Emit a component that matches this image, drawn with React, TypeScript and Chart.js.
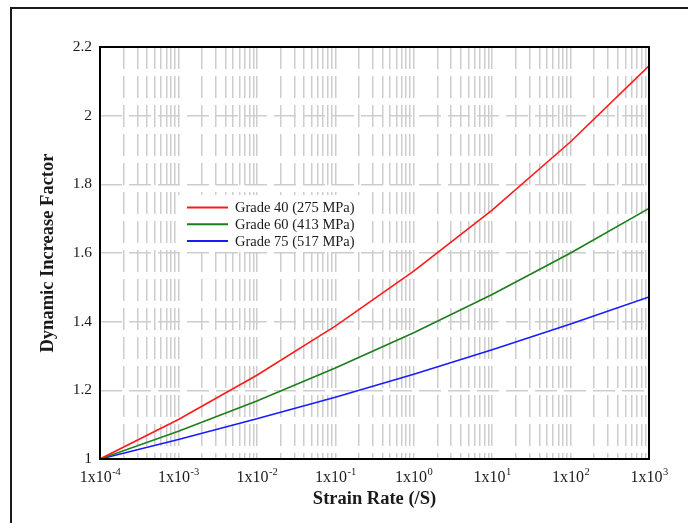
import React, { useEffect, useRef } from "react";
import { Chart, registerables } from "chart.js";

Chart.register(...registerables);

// ---- data ----
const strainRates = [1e-4, 1e-3, 1e-2, 1e-1, 1e0, 1e1, 1e2, 1e3];
const grade40 = [1.0, 1.115, 1.244, 1.387, 1.547, 1.725, 1.924, 2.145];
const grade60 = [1.0, 1.081, 1.169, 1.265, 1.368, 1.479, 1.6, 1.73];
const grade75 = [1.0, 1.057, 1.117, 1.18, 1.247, 1.318, 1.393, 1.472];
const seriesNames = ["Grade 40 (275 MPa)", "Grade 60 (413 MPa)", "Grade 75 (517 MPa)"];
const seriesColors = ["#ff1a1a", "#1a7f1a", "#1a1aff"];
const xExponents = [-4, -3, -2, -1, 0, 1, 2, 3];
const xMinorMultipliers = [1, 2, 3, 4, 5, 6, 7, 8, 9];
const yTicks = [1, 1.2, 1.4, 1.6, 1.8, 2, 2.2];
const yTickLabels = ["1", "1.2", "1.4", "1.6", "1.8", "2", "2.2"];
const xTitle = "Strain Rate (/S)";
const yTitle = "Dynamic Increase Factor";

const FONT = "'Liberation Serif', 'Times New Roman', serif";

const decorPlugin = {
  id: "decor",
  beforeDraw(chart: any) {
    const { ctx, width, height } = chart;
    ctx.save();
    ctx.fillStyle = "#ffffff";
    ctx.fillRect(0, 0, width, height);
    ctx.restore();
  },
  afterDatasetsDraw(chart: any) {
    const { ctx, chartArea } = chart;
    // legend box
    const lx = chartArea.left + 76;
    const ly = chartArea.top + 148;
    ctx.save();
    ctx.fillStyle = "#ffffff";
    ctx.fillRect(lx, ly, 188, 57);
    ctx.font = `14.5px ${FONT}`;
    ctx.textBaseline = "middle";
    ctx.fillStyle = "#1a1a1a";
    seriesNames.forEach((name, i) => {
      const y = ly + 12.5 + i * 16.8;
      ctx.strokeStyle = seriesColors[i];
      ctx.lineWidth = 2;
      ctx.beginPath();
      ctx.moveTo(lx + 11, y);
      ctx.lineTo(lx + 52, y);
      ctx.stroke();
      ctx.fillText(name, lx + 59, y + 1);
    });
    ctx.restore();
  },
  afterDraw(chart: any) {
    const { ctx, chartArea } = chart;
    const xs = chart.scales.x;
    ctx.save();
    // plot border
    ctx.strokeStyle = "#000000";
    ctx.lineWidth = 2;
    ctx.strokeRect(chartArea.left, chartArea.top, chartArea.right - chartArea.left, chartArea.bottom - chartArea.top);
    // outer frame
    ctx.strokeStyle = "#1a1a1a";
    ctx.lineWidth = 2;
    ctx.strokeRect(11, 8, 800, 700);
    // x tick labels with superscripts
    ctx.fillStyle = "#1a1a1a";
    ctx.textBaseline = "alphabetic";
    ctx.textAlign = "left";
    xExponents.forEach((e) => {
      const px = xs.getPixelForValue(Math.pow(10, e));
      ctx.font = `16px ${FONT}`;
      const base = "1x10";
      const wb = ctx.measureText(base).width;
      ctx.font = `10.5px ${FONT}`;
      const sup = e < 0 ? "-" + Math.abs(e) : String(e);
      const ws = ctx.measureText(sup).width;
      const start = px - (wb + ws) / 2;
      const by = chartArea.bottom + 23;
      ctx.font = `16px ${FONT}`;
      ctx.fillText(base, start, by);
      ctx.font = `10.5px ${FONT}`;
      ctx.fillText(sup, start + wb + 0.5, by - 7.5);
    });
    // axis titles
    ctx.font = `bold 18.5px ${FONT}`;
    ctx.textAlign = "center";
    ctx.textBaseline = "middle";
    ctx.fillText(xTitle, (chartArea.left + chartArea.right) / 2, chartArea.bottom + 40);
    ctx.translate(48, (chartArea.top + chartArea.bottom) / 2);
    ctx.rotate(-Math.PI / 2);
    ctx.fillText(yTitle, 0, 0);
    ctx.restore();
  },
};

export default function App() {
  const ref = useRef<HTMLCanvasElement | null>(null);
  useEffect(() => {
    if (!ref.current) return;
    const gridValues: number[] = [];
    xExponents.forEach((e) => {
      xMinorMultipliers.forEach((m) => {
        const v = m * Math.pow(10, e);
        if (v <= 1e3 + 1e-9) gridValues.push(v);
      });
    });
    const series = [grade40, grade60, grade75];
    const chart = new Chart(ref.current, {
      type: "line",
      data: {
        datasets: series.map((s, i) => ({
          label: seriesNames[i],
          data: s.map((y, j) => ({ x: strainRates[j], y })),
          borderColor: seriesColors[i],
          borderWidth: 1.6,
          pointRadius: 0,
          tension: 0,
          fill: false,
        })),
      },
      options: {
        animation: false,
        responsive: false,
        maintainAspectRatio: false,
        layout: { padding: { top: 47, right: 39, left: 0, bottom: 0 } },
        plugins: { legend: { display: false }, tooltip: { enabled: false } },
        scales: {
          x: {
            type: "logarithmic",
            min: 1e-4,
            max: 1e3,
            afterBuildTicks: (s: any) => {
              s.ticks = gridValues.map((v) => ({ value: v }));
            },
            afterFit: (s: any) => {
              s.height = 64;
            },
            ticks: { display: false, autoSkip: false },
            grid: { color: "#cdcdcd", lineWidth: 1.5, drawTicks: false },
            border: { display: false, dash: [22, 7] },
          },
          y: {
            type: "linear",
            min: 1,
            max: 2.2,
            afterBuildTicks: (s: any) => {
              s.ticks = yTicks.map((v) => ({ value: v }));
            },
            afterFit: (s: any) => {
              s.width = 100;
            },
            ticks: {
              callback: (_v: any, i: number) => yTickLabels[i],
              font: { family: FONT, size: 15.5 },
              color: "#1a1a1a",
              padding: 8,
            },
            grid: { color: "#cdcdcd", lineWidth: 1.5, drawTicks: false },
            border: { display: false, dash: [22, 7] },
          },
        },
      },
      plugins: [decorPlugin],
    } as any);
    return () => chart.destroy();
  }, []);
  return (
    <div style={{ position: "fixed", left: 0, top: 0, width: 688, height: 523 }}>
      <canvas ref={ref} width={688} height={523} style={{ width: 688, height: 523, display: "block" }} />
    </div>
  );
}
